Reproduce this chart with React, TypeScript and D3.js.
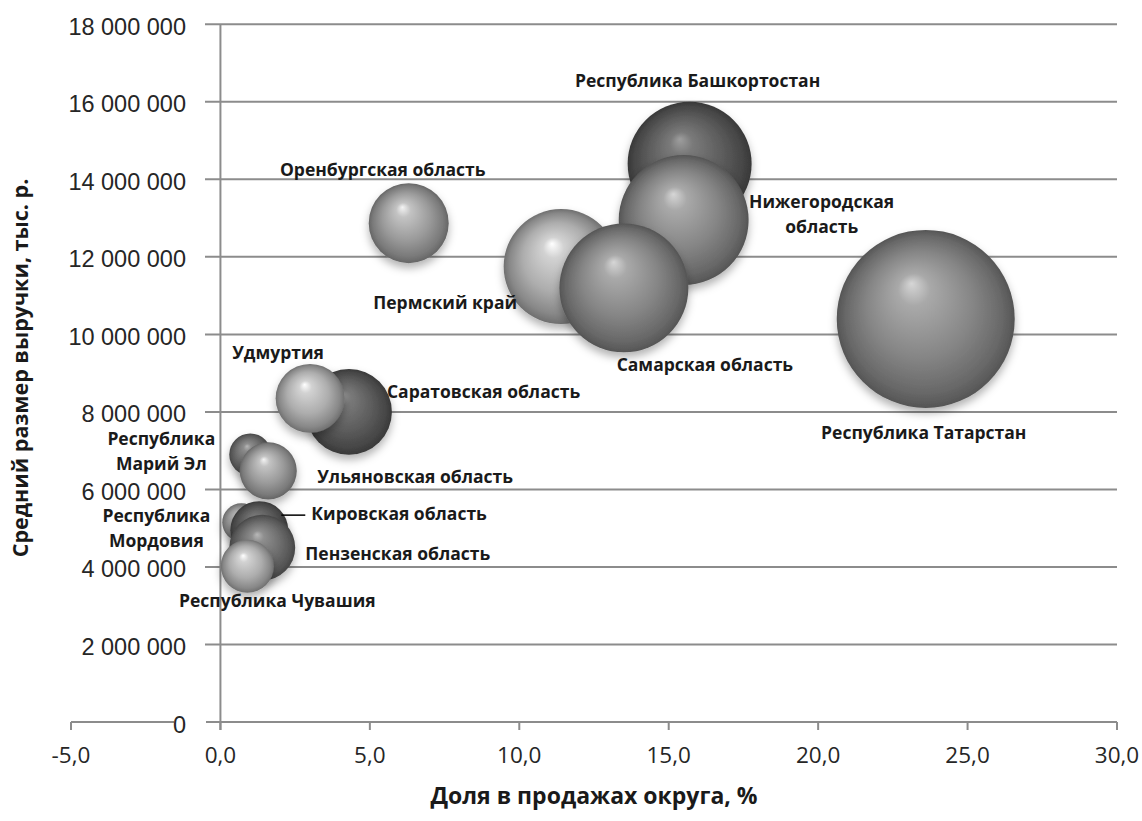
import React from 'react';
import * as d3 from 'd3';

// ---- data ----
const regions = [
  'Республика Башкортостан',
  'Нижегородская область',
  'Пермский край',
  'Самарская область',
  'Республика Татарстан',
  'Оренбургская область',
  'Саратовская область',
  'Удмуртия',
  'Республика Марий Эл',
  'Ульяновская область',
  'Республика Мордовия',
  'Кировская область',
  'Пензенская область',
  'Республика Чувашия',
];
// Доля в продажах округа, %
const salesShare = [15.7, 15.5, 11.4, 13.5, 23.6, 6.3, 4.3, 3.0, 1.0, 1.6, 0.7, 1.3, 1.4, 0.9];
// Средний размер выручки, тыс. р.
const avgRevenue = [14400000, 12950000, 11750000, 11200000, 10400000, 12870000, 8000000, 8350000, 6900000, 6480000, 5150000, 4950000, 4500000, 4020000];
// bubble size (relative sales volume)
const salesVolume = [48.5, 53.3, 41.7, 52.5, 100, 20.2, 23.3, 15.0, 5.6, 10.3, 4.6, 10.6, 13.7, 8.9];

const xTicks = [-5, 0, 5, 10, 15, 20, 25, 30];
const yTicks = [0, 2000000, 4000000, 6000000, 8000000, 10000000, 12000000, 14000000, 16000000, 18000000];

const xTitle = 'Доля в продажах округа, %';
const yTitle = 'Средний размер выручки, тыс. р.';

// ---- styles (not data) ----
type Tone = { hi: string; base: string; edge: string };
const TONES: Record<string, Tone> = {
  light: { hi: '#ffffff', base: '#adadad', edge: '#6f6f6f' },
  lightmid: { hi: '#f4f4f4', base: '#9a9a9a', edge: '#656565' },
  mid: { hi: '#d6d6d6', base: '#858585', edge: '#555555' },
  middark: { hi: '#b8b8b8', base: '#6e6e6e', edge: '#454545' },
  dark: { hi: '#9e9e9e', base: '#5c5c5c', edge: '#383838' },
};
const toneOf: Record<string, string> = {
  'Республика Башкортостан': 'dark',
  'Нижегородская область': 'mid',
  'Пермский край': 'light',
  'Самарская область': 'mid',
  'Республика Татарстан': 'mid',
  'Оренбургская область': 'lightmid',
  'Саратовская область': 'dark',
  'Удмуртия': 'light',
  'Республика Марий Эл': 'middark',
  'Ульяновская область': 'lightmid',
  'Республика Мордовия': 'lightmid',
  'Кировская область': 'dark',
  'Пензенская область': 'middark',
  'Республика Чувашия': 'light',
};
type LabelPos = { lines: string[]; anchor: 'start' | 'middle' | 'end'; dx: number; dy: number; leader?: [number, number] };
const LABELS: Record<string, LabelPos> = {
  'Республика Башкортостан': { lines: ['Республика Башкортостан'], anchor: 'middle', dx: 8, dy: -83 },
  'Нижегородская область': { lines: ['Нижегородская', 'область'], anchor: 'middle', dx: 138, dy: -18 },
  'Пермский край': { lines: ['Пермский край'], anchor: 'end', dx: -44, dy: 36 },
  'Самарская область': { lines: ['Самарская область'], anchor: 'middle', dx: 81, dy: 77 },
  'Республика Татарстан': { lines: ['Республика Татарстан'], anchor: 'middle', dx: -2, dy: 114 },
  'Оренбургская область': { lines: ['Оренбургская область'], anchor: 'middle', dx: -26, dy: -53 },
  'Саратовская область': { lines: ['Саратовская область'], anchor: 'start', dx: 38, dy: -20 },
  'Удмуртия': { lines: ['Удмуртия'], anchor: 'middle', dx: -32, dy: -45 },
  'Республика Марий Эл': { lines: ['Республика', 'Марий Эл'], anchor: 'middle', dx: -89, dy: -16 },
  'Ульяновская область': { lines: ['Ульяновская область'], anchor: 'start', dx: 49, dy: 6 },
  'Республика Мордовия': { lines: ['Республика', 'Мордовия'], anchor: 'middle', dx: -85, dy: -6 },
  'Кировская область': { lines: ['Кировская область'], anchor: 'start', dx: 52, dy: -16, leader: [22, 46] },
  'Пензенская область': { lines: ['Пензенская область'], anchor: 'start', dx: 43, dy: 6 },
  'Республика Чувашия': { lines: ['Республика Чувашия'], anchor: 'middle', dx: 30, dy: 35 },
};

const W = 1142;
const H = 821;
const GRID = '#8c8c8c';
const LABEL_FONT = '"Open Sans", "DejaVu Sans", sans-serif';

export default function App() {
  const x = d3.scaleLinear().domain([-5, 30]).range([71, 1117]);
  const y = d3.scaleLinear().domain([0, 18000000]).range([722, 24.3]);
  const r = d3.scaleSqrt().domain([0, 100]).range([0, 89]);
  const fmtY = (v: number) => d3.format(',')(v).replace(/,/g, ' ');
  const fmtX = (v: number) => v.toFixed(1).replace('.', ',');

  const points = regions.map((name, i) => ({
    name,
    cx: x(salesShare[i]),
    cy: y(avgRevenue[i]),
    rad: r(salesVolume[i]),
    tone: toneOf[name],
  }));

  return (
    <svg width={W} height={H} style={{ position: 'absolute', left: 0, top: 0, background: '#fff' }}>
      <defs>
        {Object.entries(TONES).map(([k, t]) => (
          <radialGradient key={k} id={`g-${k}`} cx="0.5" cy="0.5" r="0.5" fx="0.42" fy="0.3">
            <stop offset="0" stopColor={t.hi} />
            <stop offset="0.18" stopColor={d3.interpolateRgb(t.hi, t.base)(0.55)} />
            <stop offset="0.6" stopColor={t.base} />
            <stop offset="0.88" stopColor={d3.interpolateRgb(t.base, t.edge)(0.6)} />
            <stop offset="1" stopColor={t.edge} />
          </radialGradient>
        ))}
        <filter id="shadow" x="-30%" y="-30%" width="160%" height="170%">
          <feDropShadow dx="0" dy="5" stdDeviation="4" floodColor="#000" floodOpacity="0.3" />
        </filter>
      </defs>

      {/* grid lines + y ticks */}
      {yTicks.filter((t) => t > 0).map((t) => (
        <line key={t} x1={205} x2={x(30)} y1={y(t)} y2={y(t)} stroke={GRID} strokeWidth={2} />
      ))}
      {/* x axis */}
      <line x1={x(-5)} x2={x(30)} y1={y(0)} y2={y(0)} stroke={GRID} strokeWidth={2} />
      {xTicks.map((t) => (
        <line key={t} x1={x(t)} x2={x(t)} y1={y(0)} y2={y(0) + 8} stroke={GRID} strokeWidth={2} />
      ))}
      {/* y axis */}
      <line x1={x(0)} x2={x(0)} y1={y(18000000)} y2={y(0) + 8} stroke={GRID} strokeWidth={2} />

      {/* y tick labels */}
      {yTicks.map((t) => (
        <g key={t}>
          {t === 0 && <rect x={174} y={y(t) - 10} width={32} height={20} fill="#fff" />}
          <text
            x={186}
            y={y(t) + 10.5}
            textAnchor="end"
            fontFamily='"Liberation Sans", Arial, sans-serif'
            fontSize={23.5}
            fill="#262626"
          >
            {fmtY(t)}
          </text>
        </g>
      ))}
      {/* x tick labels */}
      {xTicks.map((t) => (
        <text key={t} x={x(t)} y={763} textAnchor="middle" fontFamily={LABEL_FONT} fontSize={22.5} fill="#262626">
          {fmtX(t)}
        </text>
      ))}

      {/* bubbles */}
      {points.map((p) => (
        <circle key={p.name} cx={p.cx} cy={p.cy} r={p.rad} fill={`url(#g-${p.tone})`} filter="url(#shadow)" />
      ))}

      {/* labels */}
      {points.map((p) => {
        const L = LABELS[p.name];
        return (
          <g key={p.name}>
            {L.leader && (
              <line
                x1={p.cx + L.leader[0]}
                x2={p.cx + L.leader[1]}
                y1={p.cy + L.dy + 1}
                y2={p.cy + L.dy + 1}
                stroke="#000"
                strokeWidth={1.5}
              />
            )}
            <text
              textAnchor={L.anchor}
              fontFamily={LABEL_FONT}
              fontWeight={700}
              fontSize={17.5}
              fill="#1a1a1a"
            >
              {L.lines.map((ln, j) => (
                <tspan key={j} x={p.cx + L.dx} y={p.cy + L.dy + j * 25 + 6}>
                  {ln}
                </tspan>
              ))}
            </text>
          </g>
        );
      })}

      {/* axis titles */}
      <text x={594} y={804} textAnchor="middle" fontFamily={LABEL_FONT} fontWeight={700} fontSize={23} fill="#1a1a1a">
        {xTitle}
      </text>
      <text
        transform={`translate(28, 368) rotate(-90)`}
        textAnchor="middle"
        fontFamily={LABEL_FONT}
        fontWeight={700}
        fontSize={21.5}
        fill="#1a1a1a"
      >
        {yTitle}
      </text>
    </svg>
  );
}
